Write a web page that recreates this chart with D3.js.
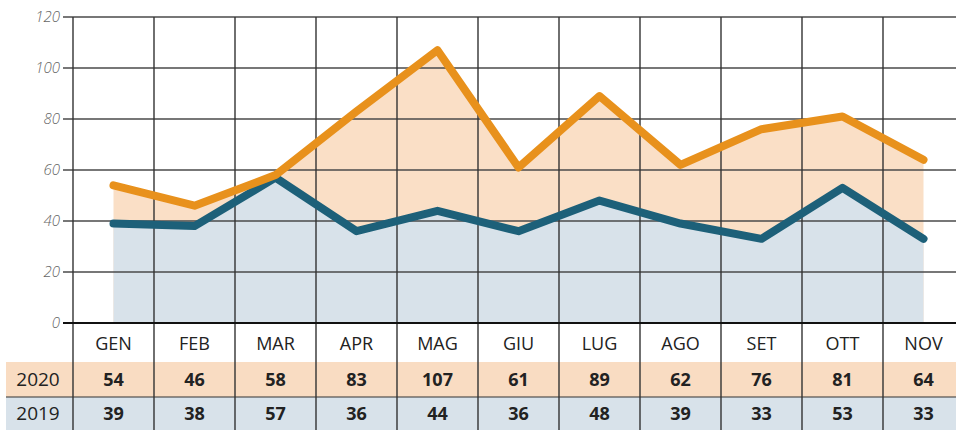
<!DOCTYPE html>
<html>
<head>
<meta charset="utf-8">
<script src="https://cdn.jsdelivr.net/npm/d3@7"></script>
<style>
  body { margin: 0; background: #fff; }
  svg { display: block; font-family: "Open Sans", "Noto Sans", sans-serif; }
</style>
</head>
<body>
<div id="chart"></div>
<script>
// data
var months = ["GEN", "FEB", "MAR", "APR", "MAG", "GIU", "LUG", "AGO", "SET", "OTT", "NOV"];
var values2020 = [54, 46, 58, 83, 107, 61, 89, 62, 76, 81, 64];
var values2019 = [39, 38, 57, 36, 44, 36, 48, 39, 33, 53, 33];
var yTicks = [0, 20, 40, 60, 80, 100, 120];
var rowLabels = ["2020", "2019"];

var width = 956, height = 430;
var plotTop = 17, plotBottom = 323, plotLeft = 73;

var svg = d3.select("#chart").append("svg")
    .attr("width", width)
    .attr("height", height);

var x = d3.scaleBand()
    .domain(months)
    .range([plotLeft, plotLeft + 81 * months.length])
    .padding(0);

var y = d3.scaleLinear()
    .domain([0, 120])
    .range([plotBottom, plotTop]);

function cx(d, i) { return x(months[i]) + x.bandwidth() / 2; }

// table backgrounds
var rowTop = [362, 397];
var rowH = [35, 35];
var rowFill = ["#f9dcc2", "#d8e2ea"];
rowLabels.forEach(function(lbl, r) {
    svg.append("rect")
        .attr("x", 6).attr("y", rowTop[r])
        .attr("width", width - 6).attr("height", rowH[r])
        .attr("fill", rowFill[r]);
});

// areas (fill down to zero)
var area = d3.area()
    .x(cx)
    .y0(y(0))
    .y1(function(d) { return y(d); });

svg.append("path").datum(values2020)
    .attr("d", area)
    .attr("fill", "#fadfc6");
svg.append("path").datum(values2019)
    .attr("d", area)
    .attr("fill", "#d8e2ea");

// horizontal grid lines
svg.append("g").selectAll("line")
    .data(yTicks.filter(function(t) { return t > 0; }))
    .enter().append("line")
    .attr("x1", 63).attr("x2", width)
    .attr("y1", function(d) { return y(d); })
    .attr("y2", function(d) { return y(d); })
    .attr("stroke", "#4a4a4a")
    .attr("stroke-width", 1.4);

// vertical grid lines, running through the table
svg.append("g").selectAll("line")
    .data(months)
    .enter().append("line")
    .attr("x1", function(d) { return x(d); })
    .attr("x2", function(d) { return x(d); })
    .attr("y1", plotTop)
    .attr("y2", height)
    .attr("stroke", "#333")
    .attr("stroke-width", 1.4);

// baseline
svg.append("line")
    .attr("x1", 63).attr("x2", width)
    .attr("y1", y(0)).attr("y2", y(0))
    .attr("stroke", "#111")
    .attr("stroke-width", 2);

// row separator 2020 / 2019
svg.append("line")
    .attr("x1", 6).attr("x2", width)
    .attr("y1", 397).attr("y2", 397)
    .attr("stroke", "#333")
    .attr("stroke-width", 1.2);

// y tick labels
svg.append("g").selectAll("text")
    .data(yTicks)
    .enter().append("text")
    .attr("x", 60)
    .attr("y", function(d) { return y(d) + 5; })
    .attr("text-anchor", "end")
    .attr("font-size", 15)
    .attr("font-style", "italic")
    .attr("font-weight", 300)
    .attr("fill", "#666")
    .text(function(d) { return d; });

// lines
var line = d3.line()
    .x(cx)
    .y(function(d) { return y(d); });

svg.append("path").datum(values2019)
    .attr("d", line)
    .attr("fill", "none")
    .attr("stroke", "#1d6079")
    .attr("stroke-width", 8)
    .attr("stroke-linecap", "round")
    .attr("stroke-linejoin", "round");

svg.append("path").datum(values2020)
    .attr("d", line)
    .attr("fill", "none")
    .attr("stroke", "#e8911c")
    .attr("stroke-width", 8)
    .attr("stroke-linecap", "round")
    .attr("stroke-linejoin", "round");

// month labels
svg.append("g").selectAll("text")
    .data(months)
    .enter().append("text")
    .attr("x", function(d) { return x(d) + x.bandwidth() / 2; })
    .attr("y", 350)
    .attr("text-anchor", "middle")
    .attr("font-size", 18)
    .attr("fill", "#222")
    .text(function(d) { return d; });

// row labels and values
var rowValues = [values2020, values2019];
var rowText = [386, 420];
rowLabels.forEach(function(lbl, r) {
    svg.append("text")
        .attr("x", 38).attr("y", rowText[r])
        .attr("text-anchor", "middle")
        .attr("font-size", 19)
        .attr("fill", "#222")
        .text(lbl);
    svg.append("g").selectAll("text")
        .data(rowValues[r])
        .enter().append("text")
        .attr("x", cx)
        .attr("y", rowText[r])
        .attr("text-anchor", "middle")
        .attr("font-size", 18)
        .attr("font-weight", 700)
        .attr("fill", "#222")
        .text(function(d) { return d; });
});
</script>
</body>
</html>
